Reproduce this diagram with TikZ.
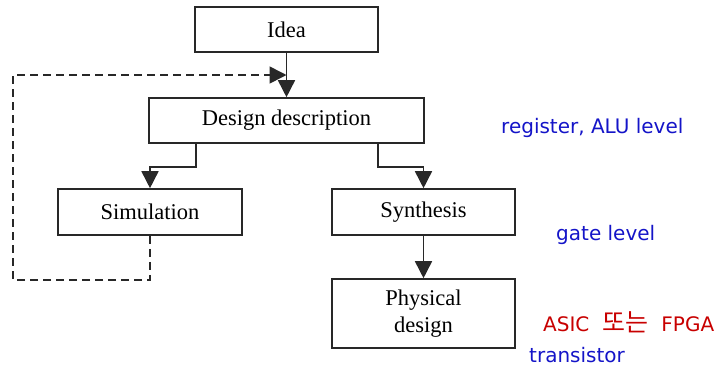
\documentclass[tikz,border=0pt]{standalone}
\usepackage{fontspec}
\setmainfont{Liberation Serif}
\setsansfont{DejaVu Sans}
\newfontfamily\krfont{Noto Sans CJK KR}
\usetikzlibrary{arrows.meta,calc}
\definecolor{lvlblue}{RGB}{20,20,200}
\definecolor{lvlred}{RGB}{200,0,0}
\definecolor{linegray}{RGB}{40,40,40}
\tikzset{
  stage/.style={draw=linegray, line width=1.6pt, rectangle, align=center,
    font=\fontsize{22.5}{27}\selectfont, inner sep=0pt},
  flow/.style={draw=linegray, line width=1.6pt,
    -{Triangle[length=17pt,width=17pt]}},
  feedback/.style={flow, dash pattern=on 8pt off 5pt},
  levelnote/.style={font=\sffamily\fontsize{20}{25}\selectfont, inner sep=0pt,
    anchor=base west}
}
\begin{document}
\begin{tikzpicture}[x=1pt,y=-1pt]
  \useasboundingbox (0,0) rectangle (724,373);

  % design-flow stages
  \node[stage, minimum width=183pt, minimum height=45pt] (idea) at (286.5,29.5) {Idea};
  \node[stage, minimum width=275pt, minimum height=45pt] (desc) at (286.5,120.5) {Design description};
  \node[stage, minimum width=184pt, minimum height=46pt] (sim)  at (150,212) {Simulation};
  \node[stage, minimum width=183pt, minimum height=46pt] (syn)  at (423.5,212) {Synthesis};
  \node[stage, minimum width=183pt, minimum height=69pt] (phys) at (423.5,313.5) {Physical\\design};

  % point where the feedback loop rejoins the main flow
  \coordinate (fb) at ($(idea.south)!0.5!(desc.north)$);

  % connectors
  \draw[flow] (idea.south) -- (desc.north);
  \draw[flow] ([xshift=-90.5pt]desc.south) -- ++(0,23) -| (sim.north);
  \draw[flow] ([xshift=91.5pt]desc.south) -- ++(0,23) -| (syn.north);
  \draw[flow] (syn.south) -- (phys.north);
  \draw[feedback] (sim.south) -- ++(0,44) -- ++(-137,0) |- (fb);

  % abstraction-level notes
  \node[levelnote, text=lvlblue] (reg) at (501,133) {register, ALU level};
  \node[levelnote, text=lvlblue] (gate) at (556,240) {gate level};
  \node[levelnote, text=lvlred] (tech) at (543,331)
    {ASIC\hspace{13pt}{\krfont\fontsize{25}{25}\selectfont 또는}\hspace{13pt}FPGA};
  \node[levelnote, text=lvlblue] (trans) at (529,362) {transistor};
\end{tikzpicture}
\end{document}
